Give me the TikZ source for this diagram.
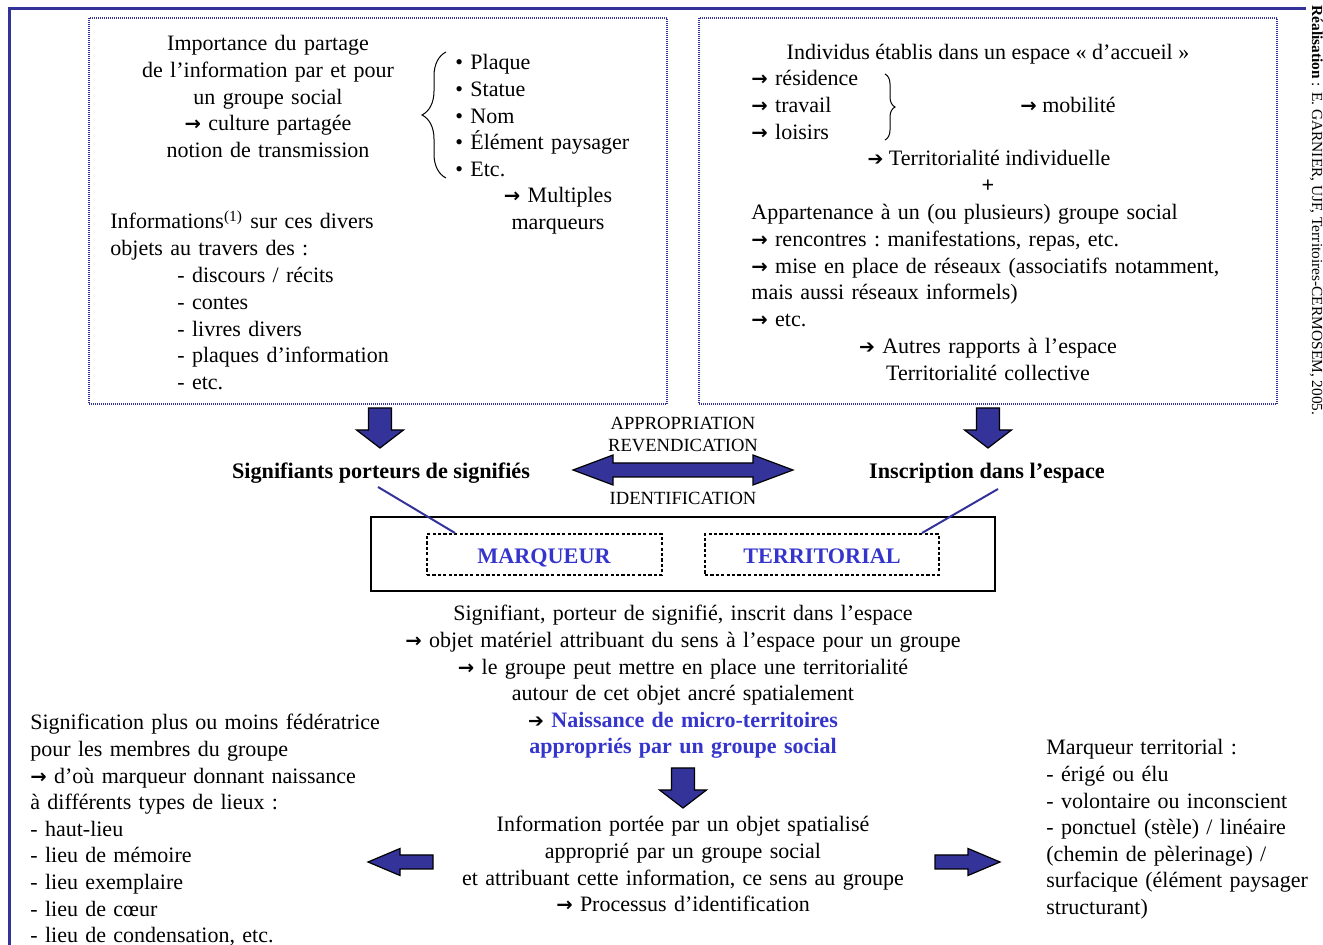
\documentclass[tikz,border=0pt]{standalone}
\usepackage{fontspec}
\setmainfont{Liberation Serif}
\newfontfamily\dvs{DejaVu Sans}
\usetikzlibrary{decorations.pathreplacing}
\definecolor{fb}{HTML}{333399}
\definecolor{tb}{HTML}{3535CC}
\newcommand\rarr{{\dvs\bfseries\fontsize{9.8}{13.3}\selectfont →}}
\newcommand\hrarr{{\dvs\fontsize{9.5}{13.3}\selectfont ➔}}
\tikzset{
  txt/.style={inner sep=0pt, yshift=-1pt, font=\fontsize{11}{13.3}\selectfont\frenchspacing},
  btxt/.style={txt, font=\fontsize{11.1}{13.3}\selectfont\bfseries\frenchspacing},
  caps/.style={inner sep=0pt, yshift=-0.5pt, font=\fontsize{9.3}{11}\selectfont},
  dotbox/.style={draw=fb, line width=0.6pt, dash pattern=on 0.5pt off 0.5pt},
  dashbox/.style={draw=black, line width=0.7pt, dash pattern=on 1.6pt off 1.1pt},
  blockarrow/.style={draw=black, fill=fb, line width=0.6pt, line join=miter},
  frame/.style={draw=fb, line width=1.5pt},
  link/.style={draw=fb, line width=1pt},
  pics/downarrow/.style={code={\draw[blockarrow] (-11.5,0) -- (11.5,0) -- (11.5,22) -- (23.5,22) -- (0,40) -- (-23.5,22) -- (-11.5,22) -- cycle;}},
  pics/leftarrow/.style={code={\draw[blockarrow] (0,0) -- (32,-13.5) -- (32,-7) -- (65,-7) -- (65,7) -- (32,7) -- (32,13.5) -- cycle;}},
  pics/rightarrow/.style={code={\draw[blockarrow] (0,0) -- (-32,-13.5) -- (-32,-7) -- (-65,-7) -- (-65,7) -- (-32,7) -- (-32,13.5) -- cycle;}},
  pics/dblarrow/.style={code={\draw[blockarrow] (-110,0) -- (-70,-15) -- (-70,-7) -- (70,-7) -- (70,-15) -- (110,0) -- (70,15) -- (70,7) -- (-70,7) -- (-70,15) -- cycle;}},
}
\begin{document}
\begin{tikzpicture}[x=0.5pt,y=-0.5pt]
\useasboundingbox (0,0) rectangle (1323,945);
% frame
\draw[frame] (9,950) -- (9,9) -- (1306,9);
% top boxes
\draw[dotbox] (89,18) rectangle (667,404);
\draw[dotbox] (699,18) rectangle (1277,404);
% top-left content
\node[txt, text width=170pt, align=center, anchor=base] (imp) at (268,49) {Importance du partage\\de l’information par et pour\\un groupe social\\\rarr{} culture partagée\\notion de transmission};
\draw[line width=0.5pt, decorate, decoration={brace, amplitude=12pt}] (446,178) -- (446,52);
\node[txt, text width=120pt, align=left, anchor=base west] (bul) at (455,68) {• Plaque\\• Statue\\• Nom\\• Élément paysager\\• Etc.};
\node[txt, text width=80pt, align=center, anchor=base] (mult) at (558,201) {\rarr{} Multiples\\marqueurs};
\node[txt, text width=200pt, align=left, anchor=base west] (info) at (110,227) {Informations\textsuperscript{(1)} sur ces divers\\objets au travers des :};
\node[txt, text width=150pt, align=left, anchor=base west] (list1) at (177,281) {- discours / récits\\- contes\\- livres divers\\- plaques d’information\\- etc.};
% top-right content
\node[txt, anchor=base] (indiv) at (988,58) {Individus établis dans un espace « d’accueil »};
\node[txt, text width=100pt, align=left, anchor=base west] (res) at (751,84) {\rarr{} résidence\\\rarr{} travail\\\rarr{} loisirs};
\draw[line width=0.5pt, decorate, decoration={brace, amplitude=5pt}] (885,74) -- (885,140);
\node[txt, anchor=base west] (mob) at (1020,111) {\rarr{} mobilité};
\node[txt, anchor=base] (tind) at (989,164) {\hrarr{} Territorialité individuelle};
\node[btxt, anchor=base] (plus) at (988,191) {+};
\node[txt, text width=260pt, align=left, anchor=base west] (app) at (751,218) {Appartenance à un (ou plusieurs) groupe social\\\rarr{} rencontres : manifestations, repas, etc.\\\rarr{} mise en place de réseaux (associatifs notamment,\\mais aussi réseaux informels)\\\rarr{} etc.};
\node[txt, text width=160pt, align=center, anchor=base] (autres) at (988,352) {\hrarr{} Autres rapports à l’espace\\Territorialité collective};
% down arrows
\pic at (380,408) {downarrow};
\pic at (988,408) {downarrow};
% middle labels
\node[btxt, anchor=base] (sig) at (381,477) {Signifiants porteurs de signifiés};
\node[btxt, anchor=base] (insc) at (987,477) {Inscription dans l’espace};
\node[caps, anchor=base] (appr) at (683,429) {APPROPRIATION};
\node[caps, anchor=base] (rev) at (683,451) {REVENDICATION};
\node[caps, anchor=base] (ident) at (683,504) {IDENTIFICATION};
\pic at (683,470) {dblarrow};
% marker box
\draw[draw=black, line width=1pt] (371,517) rectangle (995,591);
\node[dashbox, minimum width=117.5pt, minimum height=20.5pt, inner sep=0pt] (marq) at (544.5,554.5) {};
\node[dashbox, minimum width=117pt, minimum height=20.5pt, inner sep=0pt] (terr) at (822,554.5) {};
\node[btxt, text=tb, anchor=base] (marqt) at (544,562) {MARQUEUR};
\node[btxt, text=tb, anchor=base] (terrt) at (822,562) {TERRITORIAL};
\coordinate (sigfoot) at (378,487);
\coordinate (inscfoot) at (998,489);
\coordinate (marqtop) at (455,533);
\coordinate (terrtop) at (922,533);
\draw[link] (sigfoot) -- (marqtop);
\draw[link] (inscfoot) -- (terrtop);
% central text
\node[txt, text width=300pt, align=center, anchor=base] (cent) at (683,619) {Signifiant, porteur de signifié, inscrit dans l’espace\\\rarr{} objet matériel attribuant du sens à l’espace pour un groupe\\\rarr{} le groupe peut mettre en place une territorialité\\autour de cet objet ancré spatialement\\\hrarr{} {\color{tb}\bfseries Naissance de micro-territoires}\\{\color{tb}\bfseries appropriés par un groupe social}};
\pic at (683,768) {downarrow};
\node[txt, text width=260pt, align=center, anchor=base] (infoc) at (683,830) {Information portée par un objet spatialisé\\approprié par un groupe social\\et attribuant cette information, ce sens au groupe\\\rarr{} Processus d’identification};
\pic at (368,862) {leftarrow};
\pic at (1000,862) {rightarrow};
% bottom left
\node[txt, text width=200pt, align=left, anchor=base west] (bl) at (30,728) {Signification plus ou moins fédératrice\\pour les membres du groupe\\\rarr{} d’où marqueur donnant naissance\\à différents types de lieux :\\- haut-lieu\\- lieu de mémoire\\- lieu exemplaire\\- lieu de cœur\\- lieu de condensation, etc.};
% bottom right
\node[txt, text width=150pt, align=left, anchor=base west] (br) at (1046,753) {Marqueur territorial :\\- érigé ou élu\\- volontaire ou inconscient\\- ponctuel (stèle) / linéaire\\(chemin de pèlerinage) /\\surfacique (élément paysager\\structurant)};
% credit
\node[inner sep=0pt, rotate=-90, anchor=base west, font=\fontsize{7.7}{9}\selectfont] (credit) at (1312,5) {\textbf{Réalisation} : E. GARNIER, UJF, Territoires-CERMOSEM, 2005.};
\end{tikzpicture}
\end{document}
